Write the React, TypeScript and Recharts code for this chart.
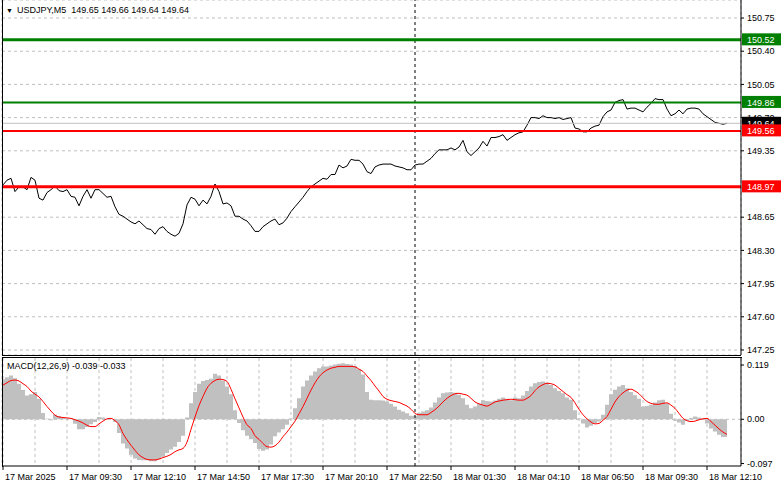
import React from 'react';
import { ComposedChart, Line, Area, XAxis, YAxis, CartesianGrid, ReferenceLine } from 'recharts';

const FONT = '"Liberation Sans", Arial, sans-serif';

const symbolTitle = 'USDJPY,M5';
const ohlc = ['149.65', '149.66', '149.64', '149.64'];
const macdTitle = 'MACD(12,26,9)';
const macdNow = ['-0.039', '-0.033'];

const timeLabels = [
  '17 Mar 2025', '17 Mar 09:30', '17 Mar 12:10', '17 Mar 14:50', '17 Mar 17:30', '17 Mar 20:10',
  '17 Mar 22:50', '18 Mar 01:30', '18 Mar 04:10', '18 Mar 06:50', '18 Mar 09:30', '18 Mar 12:10',
];
const labelIndices = [0, 16, 32, 48, 64, 80, 96, 112, 128, 144, 160, 176];
const gridIndices = [0, 8, 16, 24, 32, 40, 48, 56, 64, 72, 80, 88, 96, 104, 112, 120, 128, 136, 144, 152, 160, 168, 176];
const separatorIndex = 103;

const price = [
  148.99, 149.04, 149.06, 148.92, 148.97, 148.97, 148.94, 149.07, 149.04, 148.85,
  148.83, 148.91, 148.94, 148.98, 148.93, 148.92, 148.94, 148.87, 148.86, 148.77,
  148.87, 148.94, 148.85, 148.94, 148.94, 148.90, 148.86, 148.87, 148.76, 148.68,
  148.66, 148.63, 148.60, 148.58, 148.61, 148.57, 148.53, 148.52, 148.47, 148.53,
  148.55, 148.50, 148.47, 148.45, 148.48, 148.58, 148.78, 148.86, 148.84, 148.77,
  148.83, 148.79, 148.87, 149.00, 148.92, 148.79, 148.80, 148.77, 148.66, 148.66,
  148.63, 148.61, 148.56, 148.50, 148.50, 148.55, 148.58, 148.61, 148.63, 148.57,
  148.59, 148.64, 148.71, 148.76, 148.81, 148.86, 148.92, 148.97, 149.00, 149.03,
  149.06, 149.05, 149.10, 149.10, 149.20, 149.17, 149.19, 149.26, 149.25, 149.25,
  149.21, 149.13, 149.11, 149.18, 149.20, 149.21, 149.21, 149.21, 149.19, 149.18,
  149.17, 149.15, 149.15, 149.20, 149.21, 149.21, 149.24, 149.27, 149.32, 149.36,
  149.36, 149.36, 149.38, 149.36, 149.39, 149.46, 149.34, 149.30, 149.34, 149.38,
  149.45, 149.40, 149.49, 149.49, 149.50, 149.52, 149.46, 149.49, 149.52, 149.54,
  149.55, 149.62, 149.70, 149.70, 149.69, 149.72, 149.70, 149.70, 149.69, 149.70,
  149.68, 149.69, 149.70, 149.59, 149.58, 149.55, 149.55, 149.59, 149.61, 149.62,
  149.71, 149.76, 149.78, 149.86, 149.88, 149.89, 149.79, 149.80, 149.80, 149.78,
  149.76, 149.81, 149.85, 149.90, 149.89, 149.89, 149.79, 149.72, 149.74, 149.78,
  149.74, 149.79, 149.80, 149.80, 149.79, 149.74, 149.71, 149.68, 149.65, 149.64,
  149.63, 149.64,
];

const macdHist = [
  0.088, 0.092, 0.096, 0.09, 0.078, 0.064, 0.052, 0.055, 0.06, 0.045,
  0.014, 0.001, -0.002, 0.01, 0.007, 0.004, 0.002, 0.002, -0.01, -0.022,
  -0.022, -0.017, -0.011, -0.006, 0.005, 0.004, 0.001, 0, -0.006, -0.03,
  -0.053, -0.064, -0.078, -0.086, -0.089, -0.09, -0.09, -0.092, -0.092, -0.088,
  -0.082, -0.074, -0.066, -0.06, -0.05, -0.036, 0.004, 0.035, 0.06, 0.078,
  0.084, 0.086, 0.089, 0.1, 0.096, 0.085, 0.072, 0.055, 0.02, -0.008,
  -0.024, -0.036, -0.044, -0.052, -0.065, -0.069, -0.066, -0.055, -0.037, -0.029,
  -0.022, -0.012, 0.002, 0.024, 0.046, 0.072, 0.085, 0.096, 0.105, 0.112,
  0.116, 0.116, 0.118, 0.12, 0.122, 0.123, 0.121, 0.12, 0.117, 0.11,
  0.098, 0.06, 0.043, 0.042, 0.042, 0.041, 0.039, 0.034, 0.028, 0.021,
  0.017, 0.013, 0.008, 0.008, 0.014, 0.017, 0.02, 0.026, 0.037, 0.048,
  0.057, 0.059, 0.06, 0.058, 0.054, 0.046, 0.032, 0.024, 0.028, 0.034,
  0.042, 0.04, 0.039, 0.041, 0.045, 0.048, 0.045, 0.042, 0.048, 0.046,
  0.052, 0.062, 0.072, 0.079, 0.082, 0.083, 0.08, 0.075, 0.068, 0.062,
  0.057, 0.048, 0.043, 0.02, 0.002, -0.009, -0.018, -0.014, -0.008, -0.005,
  0.01, 0.032, 0.055, 0.065, 0.072, 0.075, 0.068, 0.06, 0.053, 0.045,
  0.028, 0.029, 0.032, 0.037, 0.042, 0.043, 0.035, 0.012, -0.003, -0.007,
  -0.012, -0.003, 0.003, 0.006, 0.004, 0.002, -0.009, -0.02, -0.027, -0.034,
  -0.039, -0.039,
];

const macdSignal = [
  0.075, 0.08, 0.085, 0.086, 0.084, 0.078, 0.072, 0.062, 0.055, 0.049,
  0.039, 0.028, 0.018, 0.009, 0.005, 0.004, 0.003, 0.002, -0.001, -0.004,
  -0.008, -0.013, -0.016, -0.016, -0.01, -0.004, 0.001, 0.002, -0.003, -0.012,
  -0.031, -0.045, -0.057, -0.068, -0.078, -0.084, -0.088, -0.089, -0.089, -0.087,
  -0.084, -0.081, -0.077, -0.071, -0.067, -0.064, -0.05, -0.022, 0.005, 0.03,
  0.05, 0.068, 0.079, 0.085, 0.088, 0.087, 0.083, 0.066, 0.045, 0.025,
  0.005, -0.012, -0.02, -0.036, -0.044, -0.053, -0.06, -0.061, -0.058, -0.05,
  -0.038, -0.028, -0.016, -0.004, 0.012, 0.028, 0.046, 0.064, 0.08, 0.093,
  0.102, 0.108, 0.112, 0.114, 0.116, 0.116, 0.116, 0.116, 0.115, 0.11,
  0.105, 0.095, 0.085, 0.073, 0.062, 0.05, 0.044, 0.041, 0.039, 0.037,
  0.033, 0.029, 0.022, 0.013, 0.01, 0.01, 0.01, 0.015, 0.021, 0.029,
  0.038, 0.046, 0.052, 0.056, 0.057, 0.055, 0.053, 0.046, 0.038, 0.034,
  0.031, 0.029, 0.033, 0.038, 0.04, 0.042, 0.043, 0.044, 0.043, 0.042,
  0.042, 0.046, 0.052, 0.063, 0.071, 0.076, 0.079, 0.078, 0.075, 0.068,
  0.061, 0.054, 0.048, 0.036, 0.022, 0.01, 0.001, -0.006, -0.01, -0.009,
  -0.002, 0.006, 0.022, 0.038, 0.05, 0.058, 0.064, 0.066, 0.062, 0.056,
  0.047, 0.039, 0.035, 0.033, 0.033, 0.035, 0.036, 0.031, 0.024, 0.013,
  0.002, -0.003, -0.005, -0.004, -0.001, 0.001, 0.002, -0.005, -0.013, -0.021,
  -0.028, -0.033,
];

const greenLevels = [150.52, 149.86];
const redLevels = [149.56, 148.97];
const lastPrice = 149.64;
const priceTicks = [147.25, 147.6, 147.95, 148.3, 148.65, 149.35, 149.7, 150.05, 150.4, 150.75];
const priceDomain = [147.197, 150.94];
const macdTicks = [-0.097, 0, 0.119];
const macdDomain = [-0.1024, 0.1344];

const rows = price.map((p, i) => ({ i, price: p, hist: macdHist[i], signal: macdSignal[i] }));

function Tag(props: any) {
  const { viewBox, bg, text } = props;
  if (!viewBox) return null;
  const x = viewBox.x + viewBox.width;
  const y = viewBox.y;
  return (
    <g>
      <rect x={x + 1} y={y - 6.5} width={40} height={12} fill={bg} />
      <text x={x + 6} y={y + 3.3} fill="#fff" fontSize={9} fontFamily={FONT}>{text}</text>
    </g>
  );
}

function TimeTick(props: any) {
  const { x, y, payload } = props;
  const k = labelIndices.indexOf(payload.value);
  if (k < 0) return null;
  return (
    <g>
      <line x1={x} y1={y} x2={x} y2={y + 4} stroke="#000" />
      <text x={x + 2} y={y + 14} fill="#000" fontSize={9} fontFamily={FONT}>{timeLabels[k]}</text>
    </g>
  );
}

const axisTick = { fill: '#000', fontSize: 9, fontFamily: FONT };

export default function App() {
  return (
    <div style={{ position: 'fixed', left: 0, top: 0, width: 781, height: 489, background: '#fff', overflow: 'hidden' }}>
      <div style={{ position: 'absolute', left: 0, top: 0 }}>
        <ComposedChart width={781} height={356} data={rows} margin={{ top: 0, right: 0, left: 2, bottom: 1 }}>
          <CartesianGrid stroke="#c0c0c0" strokeDasharray="3 3" />
          <XAxis type="number" dataKey="i" domain={[-0.25, 184.5]} allowDataOverflow ticks={gridIndices} interval={0}
            height={0} tick={false} tickLine={false} axisLine={false} />
          <YAxis orientation="right" width={40} domain={priceDomain} allowDataOverflow ticks={priceTicks} interval={0}
            tickFormatter={(v: number) => v.toFixed(2)} tick={axisTick} tickSize={3} tickMargin={3}
            axisLine={{ stroke: '#000' }} tickLine={{ stroke: '#000' }} />
          <ReferenceLine x={separatorIndex} stroke="#000" strokeDasharray="3 3" />
          <Line type="linear" dataKey="price" stroke="#000" strokeWidth={1} dot={false} isAnimationActive={false} />
          <ReferenceLine y={lastPrice} stroke="#c0c0c0" strokeWidth={1}
            label={<Tag bg="#000" text={lastPrice.toFixed(2)} />} />
          <ReferenceLine y={greenLevels[0]} stroke="#008000" strokeWidth={3}
            label={<Tag bg="#008000" text={greenLevels[0].toFixed(2)} />} />
          <ReferenceLine y={greenLevels[1]} stroke="#008000" strokeWidth={2}
            label={<Tag bg="#008000" text={greenLevels[1].toFixed(2)} />} />
          <ReferenceLine y={redLevels[0]} stroke="#ff0000" strokeWidth={2}
            label={<Tag bg="#ff0000" text={redLevels[0].toFixed(2)} />} />
          <ReferenceLine y={redLevels[1]} stroke="#ff0000" strokeWidth={3}
            label={<Tag bg="#ff0000" text={redLevels[1].toFixed(2)} />} />
        </ComposedChart>
      </div>
      <div style={{ position: 'absolute', left: 0, top: 357 }}>
        <ComposedChart width={781} height={132} data={rows} margin={{ top: 1, right: 0, left: 2, bottom: 0 }}>
          <CartesianGrid stroke="#c0c0c0" strokeDasharray="3 3" horizontal={false} />
          <XAxis type="number" dataKey="i" domain={[-0.25, 184.5]} allowDataOverflow ticks={gridIndices} interval={0}
            height={23} tick={<TimeTick />} tickSize={0} tickMargin={0} tickLine={false} axisLine={{ stroke: '#000' }} />
          <YAxis orientation="right" width={40} domain={macdDomain} allowDataOverflow ticks={macdTicks} interval={0}
            tickFormatter={(v: number) => (v === 0 ? '0.00' : String(v))} tick={axisTick} tickSize={3} tickMargin={3}
            axisLine={{ stroke: '#000' }} tickLine={{ stroke: '#000' }} />
          <ReferenceLine y={0} stroke="#c0c0c0" strokeDasharray="3 3" />
          <Area type="step" dataKey="hist" baseValue={0} stroke="none" fill="#c0c0c0" fillOpacity={1} isAnimationActive={false} />
          <Line type="monotone" dataKey="signal" stroke="#ff0000" strokeWidth={1} dot={false} isAnimationActive={false} />
          <ReferenceLine x={separatorIndex} stroke="#000" strokeDasharray="3 3" />
        </ComposedChart>
      </div>
      <div style={{ position: 'absolute', left: 2, top: 0, width: 0, height: 355, borderLeft: '1px solid #000' }} />
      <div style={{ position: 'absolute', left: 2, top: 355, width: 739, height: 0, borderTop: '1px solid #000' }} />
      <div style={{ position: 'absolute', left: 2, top: 357, width: 739, height: 109, borderLeft: '1px solid #000', borderTop: '1px solid #000' }} />
      <div style={{ position: 'absolute', left: 6, top: 4, fontFamily: FONT, fontSize: 9, color: '#000', whiteSpace: 'pre', lineHeight: '12px' }}>
        <span style={{ fontSize: 7, marginRight: 4 }}>▼</span>{symbolTitle + '  ' + ohlc.join(' ')}
      </div>
      <div style={{ position: 'absolute', left: 7, top: 360, fontFamily: FONT, fontSize: 9, color: '#000', whiteSpace: 'pre', lineHeight: '12px' }}>
        {macdTitle + ' ' + macdNow.join(' ')}
      </div>
    </div>
  );
}
